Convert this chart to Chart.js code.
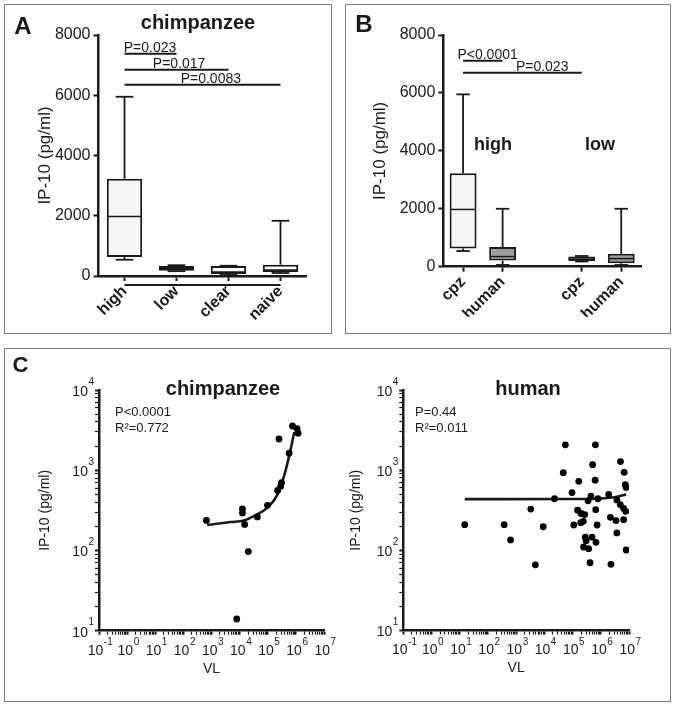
<!DOCTYPE html>
<html><head><meta charset="utf-8">
<script src="https://cdn.jsdelivr.net/npm/chart.js@4.4.1/dist/chart.umd.min.js"></script>
<style>
html,body{margin:0;padding:0;background:#fff;width:676px;height:706px;overflow:hidden}
.frame{position:absolute;border:1.5px solid #7d7d7d;box-sizing:border-box}
canvas{position:absolute}
</style></head><body>
<div class="frame" style="left:4px;top:4px;width:328px;height:330px"></div>
<div class="frame" style="left:345px;top:4px;width:326px;height:330px"></div>
<div class="frame" style="left:4px;top:348px;width:667px;height:354px"></div>
<canvas id="cA" width="338" height="340" style="left:0;top:0"></canvas>
<canvas id="cB" width="338" height="340" style="left:338px;top:0"></canvas>
<canvas id="cC1" width="338" height="366" style="left:0;top:340px"></canvas>
<canvas id="cC2" width="338" height="366" style="left:338px;top:340px"></canvas>
<script>
// ---------- Panel A data (chimpanzee, IP-10 pg/ml) ----------
const catA = ['high', 'low', 'clear', 'naive'];
const minA = [540, 160, 33, 100];
const q1A  = [630, 177, 67, 133];
const medA = [1977, 260, 130, 200];
const q3A  = [3230, 333, 333, 377];
const maxA = [5950, 357, 340, 1833];
const sigFromA = [0, 0, 0];
const sigToA   = [1, 2, 3];
const sigYA    = [7380, 6850, 6350];
const sigTextA = ['P=0.023', 'P=0.017', 'P=0.0083'];
const sigAtA   = [0.49, 1.05, 1.66];

// ---------- Panel B data ----------
const catB = ['cpz', 'human', '', 'cpz', 'human'];
const minB = [540, 60, null, 180, 60];
const q1B  = [630, 210, null, 200, 117];
const medB = [1977, 350, null, 265, 280];
const q3B  = [3230, 677, null, 350, 443];
const maxB = [5950, 2000, null, 370, 2000];
const sigFromB = [0, 0];
const sigToB   = [1, 3];
const sigYB    = [7110, 6700];
const sigTextB = ['P<0.0001', 'P=0.023'];
const sigAtB   = [0.62, 2.0];

const yTicksBox = [0, 2000, 4000, 6000, 8000];

// ---------- Panel C data (VL vs IP-10) ----------
const chimpVL  = [660, 12600, 12600, 15100, 20400, 7900, 42700, 97700, 224000, 288000, 309000, 251000, 575000, 758000, 1100000, 1200000];
const chimpIP  = [237, 330, 294, 211, 97, 14, 262, 365, 560, 630, 700, 2450, 1630, 3560, 3300, 2900];
const chimpFitVL = [700, 4800, 14000, 32000, 98000, 224000, 380000, 575000, 880000];
const chimpFitIP = [208, 226, 236, 268, 342, 500, 850, 1500, 3000];

const humanVL = [55600, 645700, 512900, 5000000, 46800, 6760000, 166000, 631000, 7410000, 7940000,
  95500, 1900000, 22900, 446700, 354800, 794000, 3720000, 4900000, 6460000, 7760000,
  3300, 151000, 200000, 269000, 240000, 195000, 661000, 110000, 741000, 2190000,
  3470000, 6460000, 3720000, 15, 376, 9100, 631, 282000, 302000, 490000,
  676000, 245000, 371500, 7940000, 4800, 417000, 2290000];
const humanIP = [2070, 2070, 1170, 1280, 930, 940, 725, 750, 660, 610,
  525, 500, 440, 475, 415, 440, 425, 372, 333, 306,
  327, 317, 288, 279, 230, 221, 321, 207, 207, 258,
  235, 241, 165, 209, 209, 197, 135, 146, 132, 146,
  126, 110, 105, 101, 66, 70, 67];
const humanFitVL = [15, 100000, 1000000, 2000000, 3000000, 4500000, 6000000, 7900000];
const humanFitIP = [435, 436, 443, 452, 460, 472, 485, 500];

const xLogMajors = [0.1, 1, 10, 100, 1000, 10000, 100000, 1000000, 10000000];
const xLogExp    = ['-1', '0', '1', '2', '3', '4', '5', '6', '7'];
const yLogMajors = [10, 100, 1000, 10000];
const yLogExp    = ['1', '2', '3', '4'];
const logBase = '10';

// ---------- helpers ----------
const FONT = '"Liberation Sans", Arial, Helvetica, sans-serif';
Chart.defaults.font.family = FONT;
Chart.defaults.color = '#1a1a1a';
const INK = '#1a1a1a';

function withMinors(majors) {
  const out = [];
  majors.forEach((m, i) => {
    out.push(m);
    if (i < majors.length - 1) for (let k = 2; k <= 9; k++) out.push(+(m * k).toPrecision(6));
  });
  return out;
}
function majorIndex(v, majors) { return majors.findIndex(m => Math.abs(m - v) / m < 1e-6); }
function fixW(w) { return s => { s.width = w; s.paddingTop = 0; s.paddingBottom = 0; }; }
function fixH(h) { return s => { s.height = h; s.paddingLeft = 0; s.paddingRight = 0; }; }

const panelText = {
  id: 'panelText',
  afterDraw(chart, args, opts) {
    const ctx = chart.ctx;
    (opts.items || []).forEach(it => {
      ctx.save();
      ctx.font = it.font; ctx.fillStyle = INK;
      ctx.textAlign = it.align || 'center';
      ctx.textBaseline = it.baseline || 'middle';
      ctx.fillText(it.text, it.x, it.y);
      ctx.restore();
    });
  }
};

// power-of-ten tick labels with raised exponents, positioned by the log scales
const logLabels = {
  id: 'logLabels',
  afterDraw(chart) {
    const ctx = chart.ctx, xs = chart.scales.x, ys = chart.scales.y;
    const baseFont = '14px ' + FONT, supFont = '10px ' + FONT;
    ctx.save(); ctx.fillStyle = INK; ctx.textBaseline = 'middle';
    xs.ticks.forEach(t => {
      const k = majorIndex(t.value, xLogMajors); if (k < 0) return;
      const px = xs.getPixelForValue(t.value);
      ctx.font = baseFont; const wb = ctx.measureText(logBase).width;
      ctx.font = supFont; const ws = ctx.measureText(xLogExp[k]).width;
      const x0 = px - (wb + ws) / 2 + 1, y = chart.chartArea.bottom + 20;
      ctx.textAlign = 'left';
      ctx.font = baseFont; ctx.fillText(logBase, x0, y);
      ctx.font = supFont; ctx.fillText(xLogExp[k], x0 + wb + 0.5, y - 8);
    });
    ys.ticks.forEach(t => {
      const k = majorIndex(t.value, yLogMajors); if (k < 0) return;
      const py = ys.getPixelForValue(t.value);
      const xr = chart.chartArea.left - 5;
      ctx.font = supFont; const ws = ctx.measureText(yLogExp[k]).width;
      ctx.textAlign = 'right';
      ctx.fillText(yLogExp[k], xr, py - 8);
      ctx.font = baseFont; ctx.fillText(logBase, xr - ws - 0.5, py + 2);
    });
    ctx.restore();
  }
};

const boxWhisker = {
  id: 'boxWhisker',
  afterDatasetsDraw(chart, args, opts) {
    if (!opts.min) return;
    const xs = chart.scales.x, ys = chart.scales.y, ctx = chart.ctx;
    const meta = chart.getDatasetMeta(0);
    const ln = (a, b, c, d) => { ctx.beginPath(); ctx.moveTo(a, b); ctx.lineTo(c, d); ctx.stroke(); };
    ctx.save(); ctx.strokeStyle = INK;
    meta.data.forEach((bar, i) => {
      const d = chart.data.datasets[0].data[i];
      if (!d) return;
      const x = xs.getPixelForValue(i), w = bar.width;
      const yLo = ys.getPixelForValue(d[0]), yHi = ys.getPixelForValue(d[1]);
      const yMin = ys.getPixelForValue(opts.min[i]), yMax = ys.getPixelForValue(opts.max[i]);
      const yMed = ys.getPixelForValue(opts.med[i]);
      ctx.lineWidth = 1.8;
      ln(x, yHi, x, yMax); ln(x - w * 0.25, yMax, x + w * 0.25, yMax);
      ln(x, yLo, x, yMin); ln(x - w * 0.25, yMin, x + w * 0.25, yMin);
      ctx.lineWidth = 1.5;
      ln(x - w / 2 + 1, yMed, x + w / 2 - 1, yMed);
    });
    (opts.sig || []).forEach(s => {
      const y = ys.getPixelForValue(s.y);
      ctx.lineWidth = 2;
      ln(xs.getPixelForValue(s.from), y, xs.getPixelForValue(s.to), y);
      const xa = xs.getPixelForValue(0) + s.at * (xs.getPixelForValue(1) - xs.getPixelForValue(0));
      ctx.font = '14px ' + FONT; ctx.fillStyle = INK;
      ctx.textAlign = 'center'; ctx.textBaseline = 'alphabetic';
      ctx.fillText(s.text, xa, y - 2);
    });
    if (opts.bracket) {
      const y = chart.chartArea.bottom + opts.bracket.offset;
      ctx.lineWidth = 2;
      ln(xs.getPixelForValue(opts.bracket.from), y, xs.getPixelForValue(opts.bracket.to), y);
    }
    ctx.restore();
  }
};

function sigList(from, to, y, text, at) {
  return from.map((f, i) => ({ from: f, to: to[i], y: y[i], text: text[i], at: at[i] }));
}

function boxChart(id, cats, q1, q3, fills, stats, pad, yW, xH, texts, hideTick) {
  return new Chart(document.getElementById(id), {
    type: 'bar',
    data: {
      labels: cats,
      datasets: [{
        data: cats.map((c, i) => q1[i] == null ? null : [q1[i], q3[i]]),
        backgroundColor: fills, borderColor: INK, borderWidth: 2, borderSkipped: false,
        barPercentage: 0.68, categoryPercentage: 1
      }]
    },
    options: {
      responsive: false, animation: false, events: [],
      layout: { padding: pad },
      plugins: { legend: { display: false }, tooltip: { enabled: false },
        boxWhisker: stats, panelText: { items: texts } },
      scales: {
        x: {
          offset: true,
          grid: { offset: false, drawOnChartArea: false, tickLength: 5, tickWidth: 2,
            tickColor: c => (hideTick && hideTick.includes(c.index)) ? 'rgba(0,0,0,0)' : INK },
          border: { color: INK, width: 2.5 },
          ticks: { minRotation: 45, maxRotation: 45, autoSkip: false, padding: 1,
            font: { size: 16, weight: 'bold' }, color: INK },
          afterFit: fixH(xH)
        },
        y: {
          min: 0, max: 8000,
          afterBuildTicks: s => { s.ticks = yTicksBox.map(v => ({ value: v })); },
          grid: { drawOnChartArea: false, tickLength: 5, tickWidth: 2, tickColor: INK },
          border: { color: INK, width: 2.5 },
          ticks: { font: { size: 16 }, padding: 3, color: INK, callback: v => String(v) },
          title: { display: true, text: 'IP-10 (pg/ml)', font: { size: 17, lineHeight: 1.2 }, padding: 0, color: INK },
          afterFit: fixW(yW)
        }
      }
    },
    plugins: [boxWhisker, panelText]
  });
}

function scatterChart(id, vl, ip, fitVL, fitIP, pad, yW, xH, texts) {
  const xt = withMinors(xLogMajors), yt = withMinors(yLogMajors);
  return new Chart(document.getElementById(id), {
    type: 'scatter',
    data: {
      datasets: [
        { type: 'line', data: fitVL.map((v, i) => ({ x: v, y: fitIP[i] })),
          borderColor: INK, borderWidth: 2.6, pointRadius: 0, fill: false,
          cubicInterpolationMode: 'monotone', order: 1 },
        { data: vl.map((v, i) => ({ x: v, y: ip[i] })),
          pointRadius: 3.4, pointBackgroundColor: '#000', pointBorderWidth: 0, order: 0 }
      ]
    },
    options: {
      responsive: false, animation: false, events: [],
      layout: { padding: pad },
      plugins: { legend: { display: false }, tooltip: { enabled: false }, panelText: { items: texts } },
      scales: {
        x: {
          type: 'logarithmic', min: 0.1, max: 1e7,
          afterBuildTicks: s => { s.ticks = xt.map(v => ({ value: v })); },
          grid: { drawOnChartArea: false, tickLength: 4,
            tickWidth: c => majorIndex(c.tick.value, xLogMajors) >= 0 ? 2 : 1.2, tickColor: INK },
          border: { color: INK, width: 2.5 },
          ticks: { display: false, autoSkip: false },
          title: { display: true, text: 'VL', font: { size: 14, lineHeight: 1.2 }, padding: 0, color: INK },
          afterFit: fixH(xH)
        },
        y: {
          type: 'logarithmic', min: 10, max: 10000,
          afterBuildTicks: s => { s.ticks = yt.map(v => ({ value: v })); },
          grid: { drawOnChartArea: false, tickLength: 4,
            tickWidth: c => majorIndex(c.tick.value, yLogMajors) >= 0 ? 2 : 1.2, tickColor: INK },
          border: { color: INK, width: 2.5 },
          ticks: { display: false, autoSkip: false },
          title: { display: true, text: 'IP-10 (pg/ml)', font: { size: 14, lineHeight: 1.2 }, padding: 0, color: INK },
          afterFit: fixW(yW)
        }
      }
    },
    plugins: [panelText, logLabels]
  });
}

// Panel A
boxChart('cA', catA, q1A, q3A, ['#f5f5f5', '#f5f5f5', '#ffffff', '#ffffff'],
  { min: minA, med: medA, max: maxA, sig: sigList(sigFromA, sigToA, sigYA, sigTextA, sigAtA),
    bracket: { from: 0, to: 3, offset: 9 } },
  { left: 34.8, right: 31.5, top: 35, bottom: 14 }, 63.7, 50,
  [ { text: 'A', x: 23, y: 27, font: 'bold 24px ' + FONT },
    { text: 'chimpanzee', x: 198, y: 23, font: 'bold 20px ' + FONT } ], null);

// Panel B
boxChart('cB', catB, q1B, q3B, ['#f5f5f5', '#9d9d9d', '#ffffff', '#f5f5f5', '#9d9d9d'],
  { min: minB, med: medB, max: maxB, sig: sigList(sigFromB, sigToB, sigYB, sigTextB, sigAtB) },
  { left: 31.8, right: 35, top: 35, bottom: 23.3 }, 73.5, 50,
  [ { text: 'B', x: 26, y: 25, font: 'bold 24px ' + FONT },
    { text: 'high', x: 155, y: 150, font: 'bold 18px ' + FONT, baseline: 'alphabetic' },
    { text: 'low', x: 262, y: 150, font: 'bold 18px ' + FONT, baseline: 'alphabetic' } ], [2]);

// Panel C chimpanzee
scatterChart('cC1', chimpVL, chimpIP, chimpFitVL, chimpFitIP,
  { left: 36.6, right: 14, top: 50, bottom: 28.6 }, 62.4, 46.7,
  [ { text: 'C', x: 20.5, y: 26, font: 'bold 22px ' + FONT },
    { text: 'chimpanzee', x: 223, y: 49, font: 'bold 20px ' + FONT },
    { text: 'P<0.0001', x: 115, y: 72, font: '13px ' + FONT, align: 'left' },
    { text: 'R²=0.772', x: 115, y: 88, font: '13px ' + FONT, align: 'left' } ]);

// Panel C human
scatterChart('cC2', humanVL, humanIP, humanFitVL, humanFitIP,
  { left: 9.6, right: 47, top: 50, bottom: 29.9 }, 55.7, 45.6,
  [ { text: 'human', x: 190, y: 49, font: 'bold 20px ' + FONT },
    { text: 'P=0.44', x: 77, y: 72, font: '13px ' + FONT, align: 'left' },
    { text: 'R²=0.011', x: 77, y: 88, font: '13px ' + FONT, align: 'left' } ]);
</script>
</body></html>
